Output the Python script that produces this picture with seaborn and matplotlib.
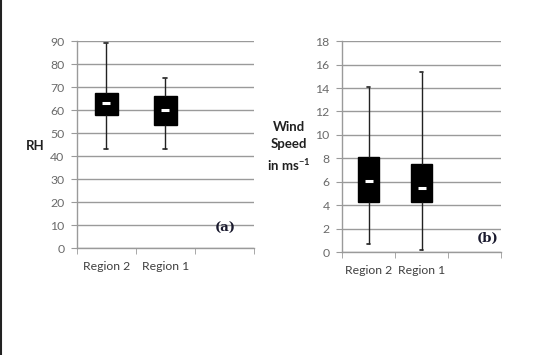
import matplotlib
matplotlib.use("Agg")
import matplotlib.pyplot as plt
from matplotlib.lines import Line2D
import seaborn as sns
import pandas as pd
import numpy as np

sns.set_style("white")
plt.rcParams['font.family'] = ['Lato', 'DejaVu Sans']

regions = ["Region 2", "Region 1"]
# five-number summaries: min, q1, median, q3, max
rh_region2 = [43, 58, 63, 67.5, 89]
rh_region1 = [43, 53.5, 60, 66, 74]
ws_region2 = [0.7, 4.3, 6.1, 8.1, 14.1]
ws_region1 = [0.2, 4.3, 5.45, 7.5, 15.4]
rh_ticks = list(range(0, 91, 10))
ws_ticks = list(range(0, 19, 2))

def make_df(a, b):
    return pd.DataFrame({"region": [regions[0]] * len(a) + [regions[1]] * len(b),
                         "value": list(a) + list(b)})

fig = plt.figure(figsize=(5.57, 3.55), dpi=100)
ax1 = fig.add_axes([0.138, 0.3014, 0.318, 0.583])
ax2 = fig.add_axes([0.614, 0.290, 0.2855, 0.594])

grid_c = "#9a9a9a"
txt_c = "#404040"

def draw(ax, a, b, ticks, width):
    df = make_df(a, b)
    sns.boxplot(data=df, x="region", y="value", order=regions, ax=ax,
                whis=(0, 100), width=width, color="black", linewidth=1,
                boxprops=dict(facecolor="black", edgecolor="black"),
                whiskerprops=dict(color="#222222", linewidth=1),
                capprops=dict(color="#222222", linewidth=1.2),
                medianprops=dict(visible=False), showfliers=False,
                zorder=3)
    # narrow the whisker caps around their own centres
    for ln in ax.lines:
        xd = np.asarray(ln.get_xdata(), dtype=float)
        yd = np.asarray(ln.get_ydata(), dtype=float)
        if len(xd) == 2 and yd[0] == yd[1] and xd[0] != xd[1]:
            c = xd.mean()
            ln.set_xdata([c - 0.035, c + 0.035])
    meds = pd.DataFrame({"region": regions, "value": [a[2], b[2]]})
    sns.pointplot(data=meds, x="region", y="value", order=regions, ax=ax,
                  color="white", markers="_", linestyles="none",
                  errorbar=None, markersize=6, markeredgewidth=2.2, zorder=6)
    ax.set_xlim(-0.5, 2.5)
    ax.set_ylim(ticks[0], ticks[-1])
    ax.set_yticks(ticks)
    ax.yaxis.grid(True, color=grid_c, linewidth=1)
    ax.set_axisbelow(True)
    ax.set_xticks([0, 1])
    ax.set_xticklabels(regions)
    ax.set_xticks([-0.5, 0.5, 1.5, 2.5], minor=True)
    ax.tick_params(axis="x", which="major", length=0, pad=9, labelsize=8.8, labelcolor=txt_c)
    ax.tick_params(axis="x", which="minor", length=4, color=grid_c, direction="out", bottom=True)
    ax.tick_params(axis="y", length=4, color=grid_c, direction="out", left=True,
                   labelsize=8.8, labelcolor="#6a6a6a", pad=5)
    ax.set_xlabel("")
    ax.set_ylabel("")
    for s in ["top", "right"]:
        ax.spines[s].set_visible(False)
    for s in ["left", "bottom"]:
        ax.spines[s].set_color(grid_c)
        ax.spines[s].set_linewidth(1)

draw(ax1, rh_region2, rh_region1, rh_ticks, 0.39)
draw(ax2, ws_region2, ws_region1, ws_ticks, 0.38)

ax1.text(2.02, 8.5, "(a)", fontsize=9.5, fontweight="bold", family="DejaVu Serif",
         color="#1a1a2e", ha="center", va="center")
ax2.text(2.24, 1.2, "(b)", fontsize=9.5, fontweight="bold", family="DejaVu Serif",
         color="#1a1a2e", ha="center", va="center")

fig.text(35 / 557, 1 - 146 / 355, "RH", fontsize=9.5, fontweight="bold",
         color="#202020", ha="center", va="center")
fig.text(289 / 557, 1 - 147 / 355, "Wind\nSpeed\nin ms$^{\\mathregular{-1}}$", fontsize=9.5,
         fontweight="bold", color="#202020", ha="center", va="center", linespacing=1.5)

fig.add_artist(Line2D([0.001, 0.001], [0, 1], transform=fig.transFigure,
                      color="#222222", linewidth=1.5))

fig.savefig("out.png", dpi=100)
